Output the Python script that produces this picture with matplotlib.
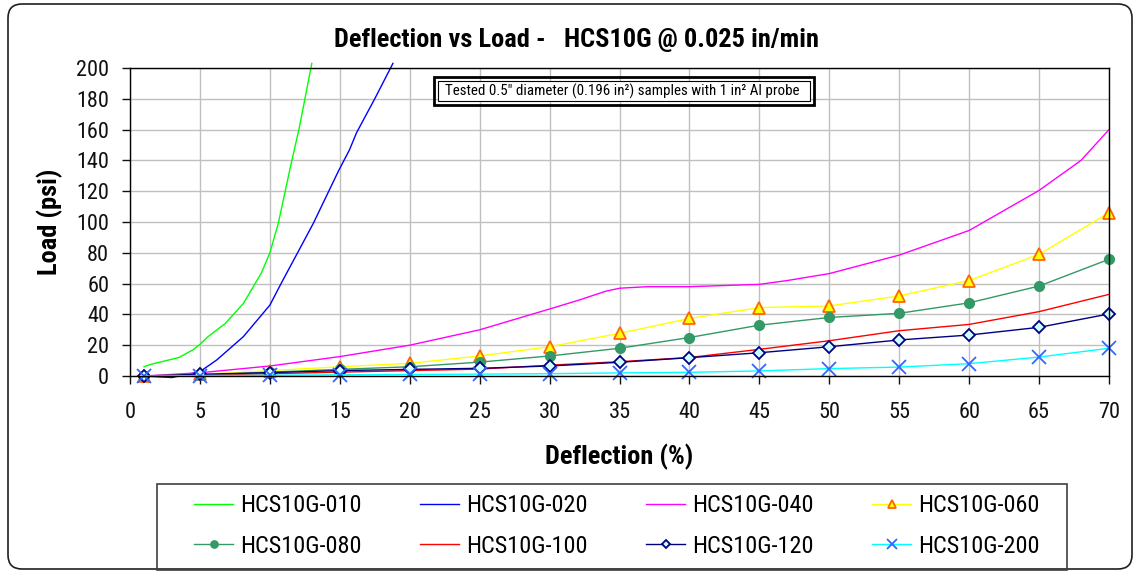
import numpy as np
import matplotlib.pyplot as plt
from matplotlib.patches import FancyBboxPatch, Rectangle
from matplotlib.transforms import IdentityTransform

plt.rcParams['font.family'] = ['Roboto Condensed', 'DejaVu Sans']
plt.rcParams['font.stretch'] = 'condensed'

# fine-resolution curves (no markers)
defl_010 = [1, 1.5, 3.5, 4.5, 5, 5.5, 6.8, 8.1, 9.4, 10, 10.6, 11.5, 12.1, 13]
load_010 = [6, 7.6, 12, 17, 20.5, 25, 34, 47, 67, 80, 99, 137, 161, 203]

defl_020 = [1, 3, 5, 6.2, 8.1, 10, 10.8, 12.1, 13.1, 14.9, 15.7, 16.2, 17.5, 18.8]
load_020 = [0, -1, 2.8, 10.4, 25.5, 46, 60, 82, 99, 133, 147, 158, 180, 203]

defl_040 = [1, 5, 10, 15, 20, 25, 30, 32, 34, 35, 37, 40, 45, 47, 50, 55, 60, 65, 68, 70]
load_040 = [0, 2.1, 6.5, 12.6, 20, 30, 43.5, 49, 55, 57, 58, 58, 59.5, 62, 66.5, 78.5, 94.5, 120.5, 140, 160]

# sampled every 5 % deflection
defl = [1, 5, 10, 15, 20, 25, 30, 35, 40, 45, 50, 55, 60, 65, 70]
load_060 = [0, 1, 3.5, 6, 8.2, 13, 19, 27.7, 37.4, 44.4, 45.5, 52, 62, 79, 106]
load_080 = [0, 0.5, 2.5, 4.3, 6, 9, 13, 18, 25, 33, 38, 40.7, 47.5, 58.4, 75.8]
load_100 = [0, 0.5, 1.5, 2.5, 3.5, 4.5, 7, 9.3, 12, 17.3, 22.9, 29.4, 33.5, 41.8, 53]
load_120 = [0, 1.1, 2.2, 3.5, 4.3, 5, 6.5, 8.9, 11.9, 15.1, 19, 23.4, 26.6, 31.6, 40.3]
load_200 = [0, 0.3, 0.5, 0.8, 1, 1.2, 1.5, 2, 2.4, 3.3, 4.8, 5.8, 8, 12.3, 18]

W, H = 1135, 571
fig = plt.figure(figsize=(W / 100, H / 100), dpi=100)
ax = fig.add_axes([130 / W, (H - 376) / H, (1109 - 130) / W, (376 - 68) / H])

lw = 1.0
l010, = ax.plot(defl_010, load_010, color='#00FF00', lw=lw, clip_on=False, label='HCS10G-010')
l020, = ax.plot(defl_020, load_020, color='#0000FF', lw=lw, clip_on=False, label='HCS10G-020')
l040, = ax.plot(defl_040, load_040, color='#FF00FF', lw=lw, label='HCS10G-040')
l060, = ax.plot(defl, load_060, color='#FFFF00', lw=lw, marker='^', ms=8, mfc='#FFFF00',
                mec='#FF6600', mew=1.3, label='HCS10G-060', clip_on=False)
l080, = ax.plot(defl, load_080, color='#339966', lw=lw, marker='o', ms=7, mfc='#339966',
                mec='#339966', label='HCS10G-080', clip_on=False)
l100, = ax.plot(defl, load_100, color='#FF0000', lw=lw, label='HCS10G-100')
l120, = ax.plot(defl, load_120, color='#000080', lw=lw, marker='D', ms=6, mfc='#CCFFFF',
                mec='#000080', mew=1.3, label='HCS10G-120', clip_on=False)
l200, = ax.plot(defl, load_200, color='#00FFFF', lw=lw, marker='x', ms=10, mec='#3366FF',
                mew=1.3, label='HCS10G-200', clip_on=False)

ax.set_xlim(0, 70)
ax.set_ylim(0, 200)
ax.set_xticks(np.arange(0, 71, 5))
ax.set_yticks(np.arange(0, 201, 20))
ax.grid(True, color='#C0C0C0', lw=1)
ax.set_axisbelow(True)
for s in ax.spines.values():
    s.set_color('black')
    s.set_linewidth(1)
ax.tick_params(direction='out', length=6, width=1, labelsize=16, colors='#111111')
ax.tick_params(axis='x', pad=13)
ax.tick_params(axis='y', pad=9)

fig.text(577 / W, 1 - 40 / H, 'Deflection vs Load -   HCS10G @ 0.025 in/min',
         ha='center', va='center', fontsize=19, fontweight='bold')
fig.text(619 / W, 1 - 457 / H, 'Deflection (%)', ha='center', va='center',
         fontsize=19, fontweight='bold')
fig.text(50 / W, 1 - 222 / H, 'Load (psi)', ha='center', va='center',
         fontsize=19, fontweight='bold', rotation=90)

# note box with double border
tr = IdentityTransform()
fig.add_artist(Rectangle((434, H - 105), 380, 28, transform=tr, fill=False,
                         ec='black', lw=2))
fig.add_artist(Rectangle((438, H - 101), 372, 20, transform=tr, fill=True,
                         fc='white', ec='black', lw=0.8))
fig.text(622 / W, 1 - 91 / H,
         'Tested 0.5" diameter (0.196 in²) samples with 1 in² Al probe',
         ha='center', va='center', fontsize=10.8)

# outer rounded chart border
fig.add_artist(FancyBboxPatch((8, 2), 1124, 565, transform=tr,
                              boxstyle='round,pad=0,rounding_size=14',
                              fill=False, ec='#202020', lw=1.2))

# legend frame drawn separately so the entries can sit inside it freely
fig.add_artist(Rectangle((157, H - 570), 910, 86, transform=tr, fill=False,
                         ec='#404040', lw=1.2))
# legend filled column by column, so order gives the row layout
order = [l010, l080, l020, l100, l040, l120, l060, l200]
leg = fig.legend(handles=order, loc='center', ncol=4,
                 bbox_to_anchor=(617 / W, 1 - 526 / H),
                 fontsize=17.5, frameon=False, handlelength=1.6, handletextpad=0.3,
                 columnspacing=2.4, labelspacing=0.7, markerscale=0.75)

fig.savefig('out.png', dpi=100)
